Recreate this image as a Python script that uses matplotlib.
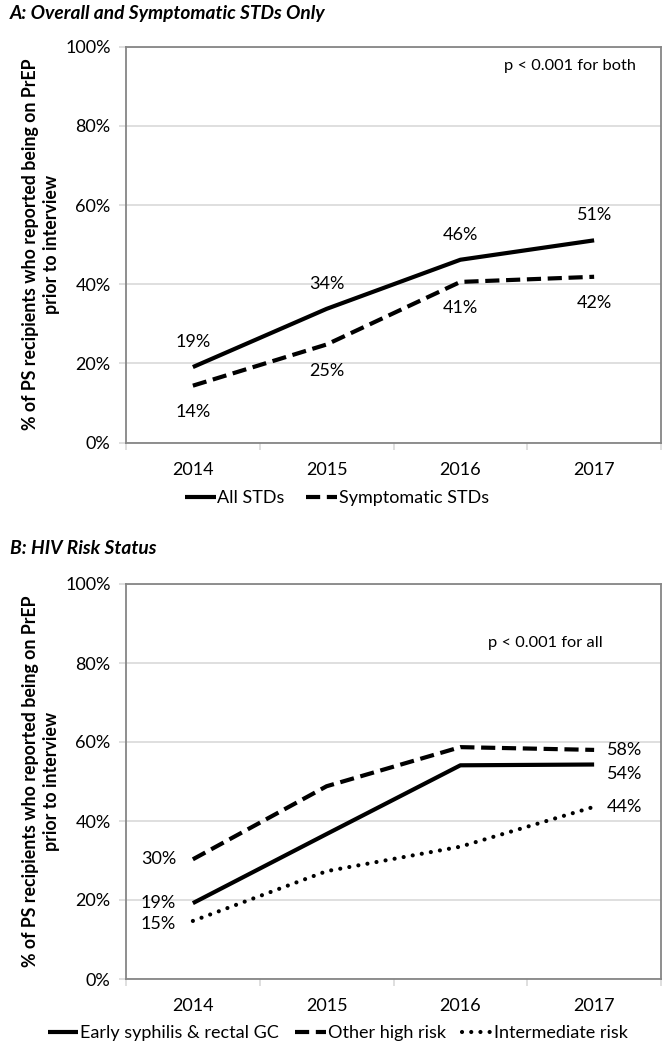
#!/usr/bin/env python3
"""Two-panel PrEP trend chart: overall/symptomatic STDs and HIV risk status."""
import matplotlib
matplotlib.use("Agg")
import matplotlib.pyplot as plt

years = ["2014", "2015", "2016", "2017"]

# panel A
all_stds = [19.1, 33.8, 46.2, 51.1]
symptomatic_stds = [14.4, 24.8, 40.6, 41.9]

# panel B
early_syphilis = [19.2, 36.7, 54.1, 54.3]
other_high_risk = [30.3, 48.8, 58.7, 58.0]
intermediate_risk = [14.7, 27.3, 33.5, 43.6]

FONT = "Lato"
plt.rcParams["font.family"] = [FONT, "DejaVu Sans"]

W, H = 668, 1050
fig = plt.figure(figsize=(W / 100, H / 100), dpi=100)

SPINE = "#868686"
GRID = "#D9D9D9"
LW = 3.0
FS = 13


def style_axes(ax):
    x = list(range(len(years)))
    ax.set_xlim(-0.5, len(years) - 0.5)
    ax.set_ylim(0, 100)
    ax.set_yticks(range(0, 101, 20))
    ax.set_yticklabels([f"{v}%" for v in range(0, 101, 20)], fontsize=FS)
    ax.set_xticks(x)
    ax.set_xticklabels(years, fontsize=FS)
    ax.set_xticks([i - 0.5 for i in range(len(years) + 1)], minor=True)
    ax.tick_params(axis="x", which="major", length=0, pad=14)
    ax.tick_params(axis="x", which="minor", length=5, color=GRID, width=1.2)
    ax.tick_params(axis="y", length=5, color=GRID, width=1.2, pad=6)
    ax.grid(axis="y", color=GRID, linewidth=1.2)
    ax.set_axisbelow(True)
    for s in ax.spines.values():
        s.set_color(SPINE)
        s.set_linewidth(1.3)
    return x


def label(ax, x, y, txt, dx=0, dy=0, ha="center"):
    ax.annotate(txt, (x, y), xytext=(dx, dy), textcoords="offset points",
                ha=ha, va="center", fontsize=FS)


# ---------- Panel A ----------
axA = fig.add_axes([126 / W, 1 - 442.7 / H, 535 / W, 396 / H])
x = style_axes(axA)
axA.plot(x, all_stds, color="black", lw=LW, solid_capstyle="butt", label="All STDs")
axA.plot(x, symptomatic_stds, color="black", lw=LW, ls=(0, (3.4, 1.6)),
         dash_capstyle="butt", label="Symptomatic STDs")
for i, v in enumerate(all_stds):
    label(axA, i, v, f"{round(v)}%", dy=18)
for i, v in enumerate(symptomatic_stds):
    label(axA, i, v, f"{round(v)}%", dy=-19)
axA.legend(loc="center", bbox_to_anchor=(337 / W, 1 - 498 / H), bbox_transform=fig.transFigure,
           ncol=2, frameon=False, fontsize=FS, handlelength=1.7, handletextpad=0.1,
           columnspacing=1.2)

fig.text(10 / W, 1 - 13 / H, "A: Overall and Symptomatic STDs Only", fontsize=13.8,
         fontweight="bold", fontstyle="italic", ha="left", va="center")
fig.text(636 / W, 1 - 66 / H, "p < 0.001 for both", fontsize=11.8, ha="right", va="center")
fig.text(41 / W, 1 - 244.7 / H,
         "% of PS recipients who reported being on PrEP\nprior to interview",
         rotation=90, ha="center", va="center", fontsize=12.8, fontweight="bold",
         multialignment="center", linespacing=1.25)

# ---------- Panel B ----------
axB = fig.add_axes([126 / W, 1 - 979 / H, 535 / W, 395 / H])
x = style_axes(axB)
axB.plot(x, early_syphilis, color="black", lw=LW, solid_capstyle="butt",
         label="Early syphilis & rectal GC")
axB.plot(x, other_high_risk, color="black", lw=LW, ls=(0, (3.4, 1.6)),
         dash_capstyle="butt", label="Other high risk")
axB.plot(x, intermediate_risk, color="black", lw=3.0, ls=(0, (0.01, 2.2)),
         dash_capstyle="round", label="Intermediate risk")
last = len(years) - 1
label(axB, 0, other_high_risk[0], f"{round(other_high_risk[0])}%", dx=-12, ha="right")
label(axB, 0, early_syphilis[0], f"{round(early_syphilis[0])}%", dx=-12, ha="right")
label(axB, 0, intermediate_risk[0], f"{round(intermediate_risk[0])}%", dx=-12, dy=-2, ha="right")
label(axB, last, other_high_risk[last], f"{round(other_high_risk[last])}%", dx=9, ha="left")
label(axB, last, early_syphilis[last], f"{round(early_syphilis[last])}%", dx=9, dy=-7, ha="left")
label(axB, last, intermediate_risk[last], f"{round(intermediate_risk[last])}%", dx=9, ha="left")
axB.legend(loc="center", bbox_to_anchor=(338 / W, 1 - 1033 / H), bbox_transform=fig.transFigure,
           ncol=3, frameon=False, fontsize=FS, handlelength=1.7, handletextpad=0.1,
           columnspacing=0.9)

fig.text(10 / W, 1 - 549 / H, "B: HIV Risk Status", fontsize=13.8,
         fontweight="bold", fontstyle="italic", ha="left", va="center")
fig.text(603 / W, 1 - 643 / H, "p < 0.001 for all", fontsize=11.8, ha="right", va="center")
fig.text(41 / W, 1 - 781.5 / H,
         "% of PS recipients who reported being on PrEP\nprior to interview",
         rotation=90, ha="center", va="center", fontsize=12.8, fontweight="bold",
         multialignment="center", linespacing=1.25)

fig.savefig("out.png", dpi=100)
